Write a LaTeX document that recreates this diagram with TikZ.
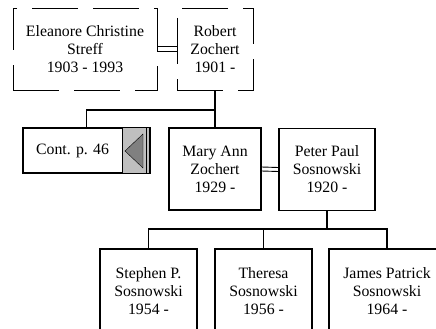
\documentclass[tikz,border=0pt]{standalone}
\usepackage{fontspec}
\setmainfont{Liberation Serif}
\usetikzlibrary{positioning}

\begin{document}
\begin{tikzpicture}[x=1pt, y=-1pt,
  font=\fontsize{15.8}{18}\selectfont,
  person/.style={draw, line width=1.2pt, rectangle, align=center, inner sep=0pt},
  spouse/.style={draw, thin, dash pattern=on 46pt off 15pt, rectangle, align=center, inner sep=0pt},
  link/.style={line width=1.2pt},
  marriage/.style={line width=0.9pt}]

\useasboundingbox (0,0) rectangle (436,329);
\clip (0,0) rectangle (436,329);

% Define the nodes with coordinates
\node[spouse, minimum width=144, minimum height=82] (ES) at (85,49) {Eleanore Christine\\Streff\\1903 - 1993};
\node[spouse, minimum width=76, minimum height=82] (RZ) at (215,49) {Robert\\Zochert\\1901 -};
\node[person, minimum width=127, minimum height=45] (CP) at (86.5,150.5) {};
\node (CPtext) at (72.5,150.5) {Cont. p. 46};
\node[person, minimum width=92, minimum height=82] (MZ) at (215,169) {Mary Ann\\Zochert\\1929 -};
\node[person, minimum width=96, minimum height=82] (PS) at (327,169.5) {Peter Paul\\Sosnowski\\1920 -};
\node[person, minimum width=97, minimum height=84] (SS) at (148.5,291) {Stephen P.\\Sosnowski\\1954 -};
\node[person, minimum width=97, minimum height=84] (TS) at (263.5,291) {Theresa\\Sosnowski\\1956 -};
\node[person, minimum width=116, minimum height=84] (JS) at (387,291) {James Patrick\\Sosnowski\\1964 -};

% Continuation marker
\fill[gray!50] (122,128) rectangle (149,173);
\draw[thin] (122,128) -- (122,173);
\draw[thin] (146.5,128) -- (146.5,173);
\filldraw[fill=gray, draw=black, thin] (125,151) -- (143,134) -- (143,168) -- cycle;

% Draw the edges
\coordinate (fork) at (215,110);
\coordinate (kids) at (327,229);
\draw[marriage] ([yshift=2.5pt]ES.east) -- ([yshift=2.5pt]RZ.west);
\draw[marriage] ([yshift=-2pt]ES.east) -- ([yshift=-2pt]RZ.west);
\draw[marriage] ([yshift=2pt]MZ.east) -- ([yshift=2pt]PS.west);
\draw[marriage] ([yshift=-2pt]MZ.east) -- ([yshift=-2pt]PS.west);
\draw[link] (RZ.south) -- (MZ.north);
\draw[link] (CP.north) |- (fork);
\draw[link] (PS.south) -- (kids);
\draw[link] (SS.north) |- (kids) -| (JS.north);
\draw[link] (kids) -| (TS.north);
\end{tikzpicture}
\end{document}
